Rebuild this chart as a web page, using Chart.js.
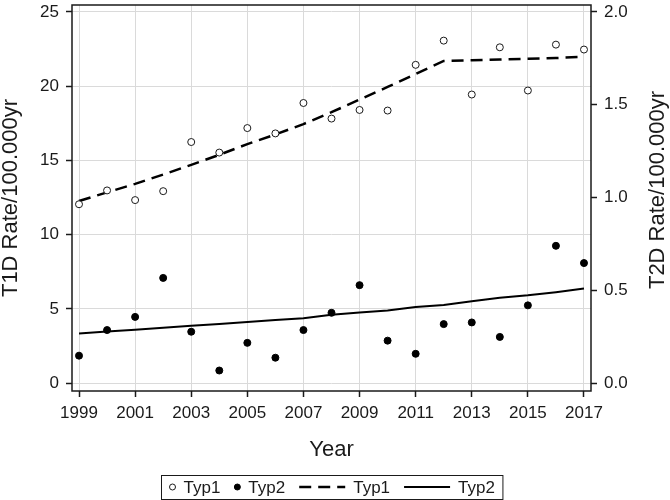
<!DOCTYPE html>
<html>
<head>
<meta charset="utf-8">
<script src="https://cdn.jsdelivr.net/npm/chart.js@4/dist/chart.umd.min.js"></script>
<style>
  html, body { margin: 0; padding: 0; background: #fff; }
  #wrap { width: 670px; height: 500px; }
</style>
</head>
<body>
<div id="wrap"><canvas id="c" width="670" height="500"></canvas></div>
<script>
const YEARS = [1999, 2000, 2001, 2002, 2003, 2004, 2005, 2006, 2007, 2008, 2009, 2010, 2011, 2012, 2013, 2014, 2015, 2016, 2017];
const T1D_RATE = [12.05, 12.98, 12.33, 12.93, 16.24, 15.53, 17.18, 16.82, 18.87, 17.82, 18.40, 18.36, 21.44, 23.07, 19.44, 22.62, 19.71, 22.80, 22.47];
const T2D_RATE = [0.148, 0.286, 0.357, 0.567, 0.277, 0.068, 0.217, 0.137, 0.286, 0.379, 0.528, 0.229, 0.158, 0.318, 0.327, 0.249, 0.419, 0.740, 0.647];
const T1D_FIT = [12.27, 12.85, 13.42, 14.05, 14.70, 15.38, 16.10, 16.75, 17.45, 18.25, 19.10, 19.95, 20.82, 21.70, 21.75, 21.80, 21.85, 21.90, 21.98];
const T2D_FIT = [0.268, 0.278, 0.288, 0.298, 0.309, 0.319, 0.329, 0.340, 0.350, 0.368, 0.380, 0.391, 0.410, 0.421, 0.441, 0.460, 0.473, 0.490, 0.510];
const X_TICKS = [1999, 2001, 2003, 2005, 2007, 2009, 2011, 2013, 2015, 2017];
const Y1_TICKS = [0, 5, 10, 15, 20, 25];
const Y2_TICKS = [0, 0.5, 1.0, 1.5, 2.0];
const SERIES_LABELS = ['Typ1', 'Typ2', 'Typ1', 'Typ2'];
const X_TITLE = 'Year';
const Y1_TITLE = 'T1D Rate/100.000yr';
const Y2_TITLE = 'T2D Rate/100.000yr';

const FONT = "'Liberation Sans', Arial, Helvetica, sans-serif";
const INK = '#1a1a1a';
const GRID = '#dadada';

const pts = (ys) => YEARS.map((x, i) => ({x: x, y: ys[i]}));

const framePlugin = {
  id: 'frame',
  afterDatasetsDraw(chart) {
    const {ctx, chartArea: a} = chart;
    ctx.save();
    ctx.strokeStyle = INK;
    ctx.lineWidth = 1.5;
    ctx.strokeRect(a.left, a.top, a.right - a.left, a.bottom - a.top);
    ctx.restore();
  }
};

// right-axis title reading bottom-to-top, like the reference
const rightTitlePlugin = {
  id: 'rightTitle',
  afterDraw(chart) {
    const s = chart.scales.y2;
    const ctx = chart.ctx;
    ctx.save();
    ctx.font = '22px ' + FONT;
    ctx.fillStyle = INK;
    ctx.textAlign = 'center';
    ctx.textBaseline = 'middle';
    ctx.translate(s.right - 12, (s.top + s.bottom) / 2 - 8);
    ctx.rotate(-Math.PI / 2);
    ctx.fillText(Y2_TITLE, 0, 0);
    ctx.restore();
  }
};

const legendPlugin = {
  id: 'boxLegend',
  afterDraw(chart) {
    const ctx = chart.ctx;
    const fontSize = 17;
    ctx.save();
    ctx.font = fontSize + 'px ' + FONT;
    const items = chart.data.datasets.map(ds => ({
      text: ds.label,
      kind: ds.showLine ? 'line' : 'point',
      ds: ds
    }));
    const symW = it => it.kind === 'line' ? 46 : 6;
    const gapSym = 8, gapItem = 14, pad = 8;
    let total = pad * 2;
    items.forEach((it, i) => {
      it.tw = ctx.measureText(it.text).width;
      total += symW(it) + gapSym + it.tw + (i < items.length - 1 ? gapItem : 0);
    });
    const a = chart.chartArea;
    const cx = (a.left + a.right) / 2;
    const top = 475, h = 24;
    const left = Math.round(cx - total / 2) + 0.5;
    const midY = top + h / 2;
    ctx.strokeStyle = INK;
    ctx.lineWidth = 1;
    ctx.strokeRect(left, top + 0.5, total, h);
    let x = left + pad;
    items.forEach((it) => {
      const ds = it.ds;
      if (it.kind === 'point') {
        ctx.beginPath();
        ctx.arc(x + 3, midY, 3, 0, Math.PI * 2);
        ctx.fillStyle = ds.pointBackgroundColor;
        ctx.fill();
        ctx.strokeStyle = ds.pointBorderColor;
        ctx.lineWidth = 1;
        ctx.stroke();
      } else {
        ctx.beginPath();
        ctx.setLineDash(ds.borderDash || []);
        ctx.strokeStyle = ds.borderColor;
        ctx.lineWidth = ds.borderWidth;
        ctx.moveTo(x, midY);
        ctx.lineTo(x + symW(it), midY);
        ctx.stroke();
        ctx.setLineDash([]);
      }
      x += symW(it) + gapSym;
      ctx.fillStyle = INK;
      ctx.textBaseline = 'middle';
      ctx.textAlign = 'left';
      ctx.fillText(it.text, x, midY + 1);
      x += it.tw + gapItem;
    });
    ctx.restore();
  }
};

const noPadV = (w) => (s) => { s.width = w; s.paddingTop = 0; s.paddingBottom = 0; };

new Chart(document.getElementById('c'), {
  type: 'scatter',
  data: {
    datasets: [
      {
        label: SERIES_LABELS[0], data: pts(T1D_RATE), yAxisID: 'y', showLine: false,
        pointStyle: 'circle', pointRadius: 3.5, pointBorderWidth: 1,
        pointBackgroundColor: '#ffffff', pointBorderColor: INK, order: 1
      },
      {
        label: SERIES_LABELS[1], data: pts(T2D_RATE), yAxisID: 'y2', showLine: false,
        pointStyle: 'circle', pointRadius: 3.5, pointBorderWidth: 1,
        pointBackgroundColor: '#000000', pointBorderColor: '#000000', order: 2
      },
      {
        label: SERIES_LABELS[2], data: pts(T1D_FIT), yAxisID: 'y', showLine: true,
        borderColor: '#000000', borderWidth: 2.5, borderDash: [12, 7], pointRadius: 0,
        tension: 0, fill: false, order: 3
      },
      {
        label: SERIES_LABELS[3], data: pts(T2D_FIT), yAxisID: 'y2', showLine: true,
        borderColor: '#000000', borderWidth: 2, pointRadius: 0,
        tension: 0, fill: false, order: 4
      }
    ]
  },
  options: {
    responsive: false,
    animation: false,
    devicePixelRatio: 1,
    layout: { padding: { top: 1, bottom: 30, left: 0, right: 0 } },
    plugins: {
      legend: { display: false },
      tooltip: { enabled: false }
    },
    scales: {
      x: {
        type: 'linear', position: 'bottom', min: 1998.75, max: 2017.25,
        afterBuildTicks: (s) => { s.ticks = X_TICKS.map(v => ({value: v})); },
        afterFit: (s) => { s.height = 79; s.paddingLeft = 0; s.paddingRight = 0; },
        ticks: { callback: (v) => String(v), color: INK, padding: 6, maxRotation: 0, autoSkip: false,
                 font: { family: FONT, size: 17 } },
        grid: { color: GRID, lineWidth: 1, tickColor: INK, tickLength: 6, tickWidth: 1.5 },
        border: { display: false },
        title: { display: true, text: X_TITLE, color: INK, font: { family: FONT, size: 22, lineHeight: 1 },
                 padding: { top: 0, bottom: 9 } }
      },
      y: {
        type: 'linear', position: 'left', min: -0.53, max: 25.47,
        afterBuildTicks: (s) => { s.ticks = Y1_TICKS.map(v => ({value: v})); },
        afterFit: noPadV(72),
        ticks: { callback: (v) => String(v), color: INK, padding: 7, font: { family: FONT, size: 17 } },
        grid: { color: GRID, lineWidth: 1, tickColor: INK, tickLength: 6, tickWidth: 1.5 },
        border: { display: false },
        title: { display: true, text: Y1_TITLE, color: INK, font: { family: FONT, size: 22, lineHeight: 1 },
                 padding: { top: 0, bottom: 0 } }
      },
      y2: {
        type: 'linear', position: 'right', min: -0.0424, max: 2.0376,
        afterBuildTicks: (s) => { s.ticks = Y2_TICKS.map(v => ({value: v})); },
        afterFit: noPadV(79),
        ticks: { callback: (v) => v.toFixed(1), color: INK, padding: 7, font: { family: FONT, size: 17 } },
        grid: { drawOnChartArea: false, tickColor: INK, tickLength: 6, tickWidth: 1.5 },
        border: { display: false },
        title: { display: false, text: Y2_TITLE }
      }
    }
  },
  plugins: [framePlugin, rightTitlePlugin, legendPlugin]
});
</script>
</body>
</html>
